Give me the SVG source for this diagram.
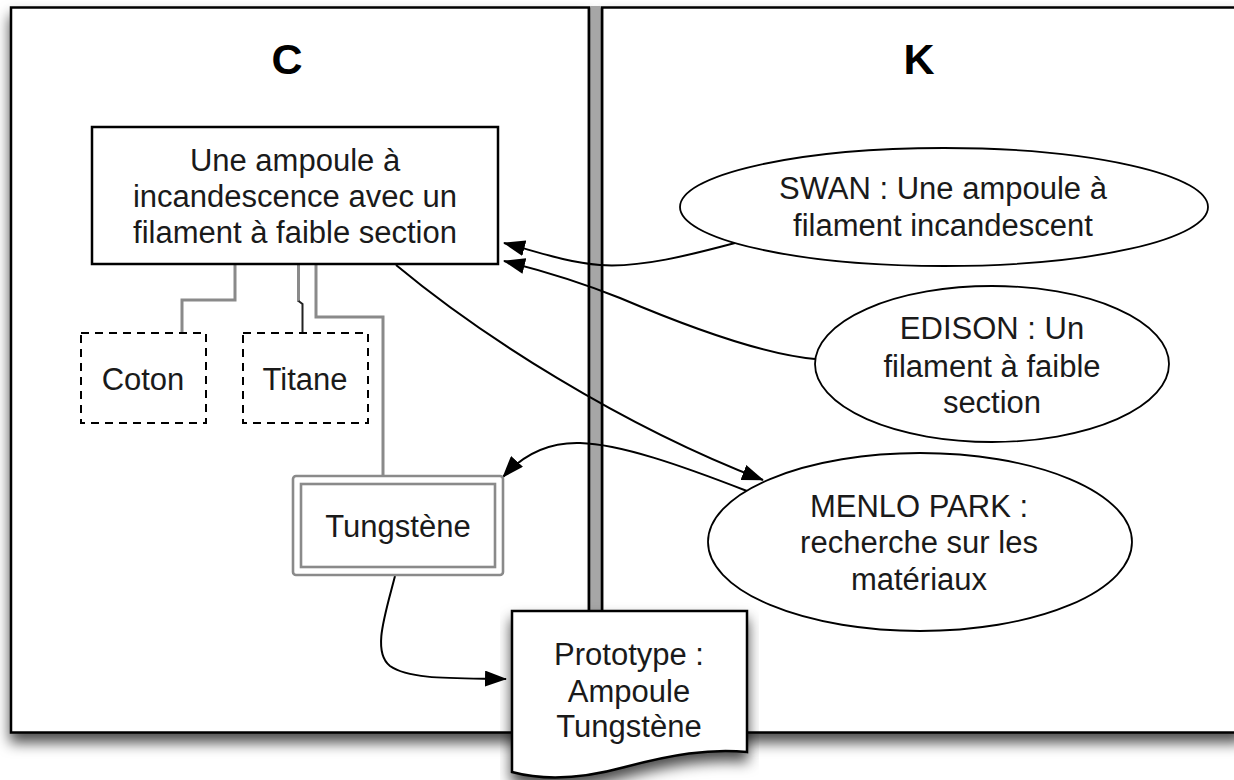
<svg xmlns="http://www.w3.org/2000/svg" width="1234" height="780" viewBox="0 0 1234 780">
<defs>
<style>
.txt{font-family:"Liberation Sans",Arial,Helvetica,sans-serif;font-size:31px;fill:#1a1a1a;text-anchor:middle}
.title{font-family:"Liberation Sans",Arial,Helvetica,sans-serif;font-size:43px;font-weight:bold;fill:#000;text-anchor:middle}
.panel{fill:#fff;stroke:#000;stroke-width:2.5}
.box{fill:#fff;stroke:#000;stroke-width:2.5}
.dash{fill:#fff;stroke:#000;stroke-width:2;stroke-dasharray:8 6}
.ell{fill:#fff;stroke:#000;stroke-width:1.8}
.dbl{fill:none;stroke:#8a8a8a;stroke-width:2.6}
.gray{fill:none;stroke:#8a8a8a;stroke-width:3}
.arrow{fill:none;stroke:#000;stroke-width:2;marker-end:url(#arr)}
</style>
<filter id="shadow" x="-5%" y="-5%" width="110%" height="115%">
<feDropShadow dx="0" dy="9" stdDeviation="7" flood-color="#000" flood-opacity="0.7"/>
</filter>
<marker id="arr" viewBox="0 0 22 16" refX="21" refY="8" markerWidth="22" markerHeight="16" orient="auto" markerUnits="userSpaceOnUse">
<path d="M0,0 L22,8 L0,16 z" fill="#000"/>
</marker>
</defs>

<g id="panel-C">
<rect class="panel" x="11" y="7.5" width="578" height="725" filter="url(#shadow)"/>
<text class="title" x="287" y="74">C</text>
</g>
<g id="panel-K">
<rect class="panel" x="602" y="7.5" width="640" height="725" filter="url(#shadow)"/>
<text class="title" x="919" y="74">K</text>
</g>
<rect x="590.2" y="6" width="10.6" height="727" fill="#a6a6a6"/>
<line x1="589" y1="7.5" x2="589" y2="732.5" stroke="#000" stroke-width="2.5"/>
<line x1="602" y1="7.5" x2="602" y2="732.5" stroke="#000" stroke-width="2.5"/>

<g id="connectors">
<path class="gray" d="M235,264 V300 H182 V333"/>
<path class="gray" d="M298.5,264 V302"/>
<path fill="none" stroke="#222" stroke-width="2" d="M298.5,301 L302.5,304 V333"/>
<path class="gray" d="M316,264 V317 H383 V476"/>
<path class="arrow" d="M735,243 C690,255 640,268 600,265 C565,262 535,251 504,243"/>
<path class="arrow" d="M815,359 C770,355 700,332 620,298 C575,280 540,270 504,261"/>
<path class="arrow" d="M396,265 C480,335 620,425 763,480"/>
<path class="arrow" d="M747,491 C680,465 620,444 580,443 C545,442 520,458 503,477"/>
<path class="arrow" d="M395,576 C385,615 372,652 390,666 C410,680 455,678 506,679"/>
</g>

<g id="node-main">
<rect class="box" x="92" y="127" width="406" height="137"/>
<text class="txt" x="295" y="171">Une ampoule à</text>
<text class="txt" x="295" y="207">incandescence avec un</text>
<text class="txt" x="295" y="243">filament à faible section</text>
</g>
<g id="node-coton">
<rect class="dash" x="81" y="333" width="125" height="90"/>
<text class="txt" x="143" y="390">Coton</text>
</g>
<g id="node-titane">
<rect class="dash" x="243" y="333" width="125" height="90"/>
<text class="txt" x="305" y="390">Titane</text>
</g>
<g id="node-tungstene">
<rect x="293" y="476" width="210" height="99" rx="3" fill="#fff"/>
<rect class="dbl" x="293" y="476" width="210" height="99" rx="3"/>
<rect class="dbl" x="301" y="484" width="194" height="83"/>
<text class="txt" x="398" y="537">Tungstène</text>
</g>
<g id="node-prototype">
<path class="box" d="M512,611 H747 V752 C710,748 670,755 625,767 C585,778 545,781 512,772 Z" filter="url(#shadow)"/>
<text class="txt" x="629" y="665">Prototype :</text>
<text class="txt" x="629" y="702">Ampoule</text>
<text class="txt" x="629" y="737">Tungstène</text>
</g>
<g id="node-swan">
<ellipse class="ell" cx="944" cy="207" rx="264" ry="59"/>
<text class="txt" x="943" y="199">SWAN : Une ampoule à</text>
<text class="txt" x="943" y="236">filament incandescent</text>
</g>
<g id="node-edison">
<ellipse class="ell" cx="992" cy="364" rx="177" ry="78"/>
<text class="txt" x="992" y="339">EDISON : Un</text>
<text class="txt" x="992" y="377">filament à faible</text>
<text class="txt" x="992" y="413">section</text>
</g>
<g id="node-menlo">
<ellipse class="ell" cx="920" cy="542" rx="212" ry="89"/>
<text class="txt" x="919" y="517">MENLO PARK :</text>
<text class="txt" x="919" y="553">recherche sur les</text>
<text class="txt" x="919" y="590">matériaux</text>
</g>
</svg>
